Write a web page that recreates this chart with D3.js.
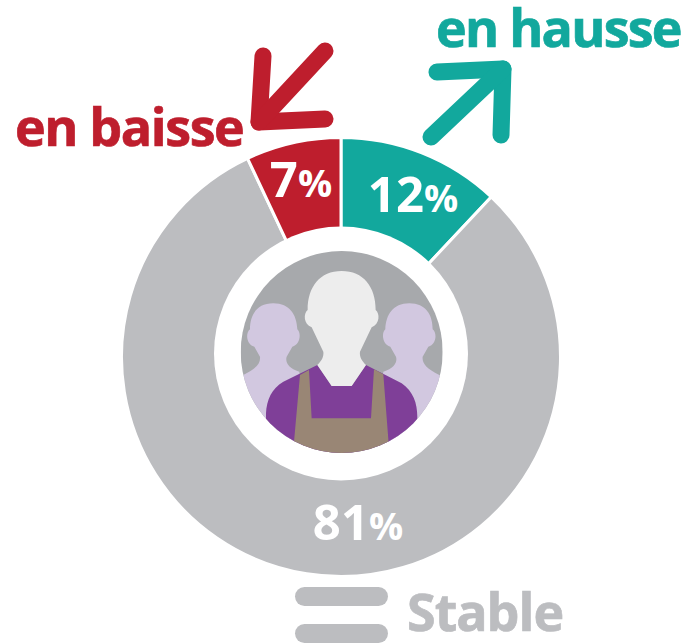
<!DOCTYPE html>
<html>
<head>
<meta charset="utf-8">
<script src="https://cdn.jsdelivr.net/npm/d3@7"></script>
<style>
html, body { margin: 0; padding: 0; background: #fff; }
svg { display: block; }
text { font-family: "Open Sans", sans-serif; font-weight: 700; }
</style>
</head>
<body>
<div id="chart"></div>
<script>
const categories = ["en hausse", "Stable", "en baisse"];
const values = [12, 81, 7];
const sliceColors = ["#12a89d", "#bcbdc0", "#be1e2d"];

const WIDTH = 691;
const HEIGHT = 644;
const CENTER = [341, 357];
const OUTER_R = 219.5;
const HOLE = { x: 341, y: 353.5, r: 127 };
const PHOTO = { x: 341.7, y: 352, r: 101 };

const svg = d3
	.select("#chart")
	.append("svg")
	.attr("width", WIDTH)
	.attr("height", HEIGHT)
	.attr("viewBox", [0, 0, WIDTH, HEIGHT]);

const pie = d3.pie().sort(null).value((d) => d);
const arc = d3.arc().innerRadius(90).outerRadius(OUTER_R);

svg.append("g")
	.attr("transform", `translate(${CENTER})`)
	.selectAll("path")
	.data(pie(values))
	.join("path")
	.attr("d", arc)
	.attr("fill", (d, i) => sliceColors[i])
	.attr("stroke", "#fff")
	.attr("stroke-width", 3);

svg.append("circle")
	.attr("cx", HOLE.x)
	.attr("cy", HOLE.y)
	.attr("r", HOLE.r)
	.attr("fill", "#fff");

// workers picture, coordinates are in 3x units
svg.append("clipPath")
	.attr("id", "photoClip")
	.append("circle")
	.attr("cx", PHOTO.x)
	.attr("cy", PHOTO.y)
	.attr("r", PHOTO.r);

const photo = svg.append("g").attr("clip-path", "url(#photoClip)");
photo.append("rect")
	.attr("x", PHOTO.x - PHOTO.r)
	.attr("y", PHOTO.y - PHOTO.r)
	.attr("width", PHOTO.r * 2)
	.attr("height", PHOTO.r * 2)
	.attr("fill", "#a7a9ac");

const people = photo.append("g").attr("transform", "translate(210,240) scale(0.3333)");
const sidePerson =
	"M190 190C140 190 120 225 120 268C105 280 110 315 133 320L150 350C152 370 140 385 100 405L40 440L40 660L300 660L268 395C235 385 225 365 230 350L247 320C270 315 275 280 262 268C260 225 240 190 190 190Z";

people.append("path").attr("d", sidePerson).attr("fill", "#d2c8e0");
people.append("path")
	.attr("d", sidePerson)
	.attr("fill", "#d2c8e0")
	.attr("transform", "translate(788,0) scale(-1,1)");
people.append("path")
	.attr("d", "M322 375L365 438L425 438L468 375L575 430C610 455 622 490 622 530L622 660L168 660L168 520C170 480 185 445 220 425Z")
	.attr("fill", "#7f3f98");
people.append("path")
	.attr("d", "M270 405L297 390L305 535L483 535L492 388L520 403L536 610L536 660L250 660L252 605Z")
	.attr("fill", "#998675");
people.append("path")
	.attr("d", "M395 93C330 93 293 140 293 210C280 220 280 252 305 262L340 335C342 350 335 362 322 375L365 438L425 438L468 375C455 362 448 350 450 335L485 262C510 252 510 220 497 210C497 140 460 93 395 93Z")
	.attr("fill", "#ededed");

// arrows
const arrowLine = d3.line();
const arrows = [
	{ color: sliceColors[2], head: [[263, 56], [259, 122], [325, 119]], shaft: [[259, 122], [325, 51]] },
	{ color: sliceColors[0], head: [[437, 72], [503, 69], [501, 135]], shaft: [[503, 69], [431, 137]] },
];
arrows.forEach((a) => {
	[a.head, a.shaft].forEach((pts) => {
		svg.append("path")
			.attr("d", arrowLine(pts))
			.attr("fill", "none")
			.attr("stroke", a.color)
			.attr("stroke-width", 17)
			.attr("stroke-linecap", "round")
			.attr("stroke-linejoin", "round");
	});
});

// percentage labels
const labelPos = [[413, 212], [358, 540], [301, 197]];
svg.append("g")
	.selectAll("text")
	.data(values)
	.join("text")
	.attr("x", (d, i) => labelPos[i][0])
	.attr("y", (d, i) => labelPos[i][1])
	.attr("text-anchor", "middle")
	.attr("fill", "#fff")
	.attr("font-size", 49)
	.each(function (d) {
		const t = d3.select(this);
		t.append("tspan").text(d);
		t.append("tspan").attr("font-size", 38).text("%");
	});

// category labels
const catPos = [[436, 47], [407, 631], [15, 146]];
const catSpacing = [-1.75, -1, -1.4];
svg.append("g")
	.selectAll("text")
	.data(categories)
	.join("text")
	.attr("x", (d, i) => catPos[i][0])
	.attr("y", (d, i) => catPos[i][1])
	.attr("font-size", 52)
	.attr("letter-spacing", (d, i) => catSpacing[i])
	.attr("fill", (d, i) => sliceColors[i === 0 ? 0 : i === 1 ? 1 : 2])
	.attr("stroke", (d, i) => sliceColors[i])
	.attr("stroke-width", 0.7)
	.text((d) => d);

// "stable" equals sign
svg.append("g")
	.selectAll("rect")
	.data([587, 624])
	.join("rect")
	.attr("x", 295)
	.attr("y", (d) => d)
	.attr("width", 93)
	.attr("height", 19)
	.attr("rx", 9.5)
	.attr("fill", sliceColors[1]);
</script>
</body>
</html>
